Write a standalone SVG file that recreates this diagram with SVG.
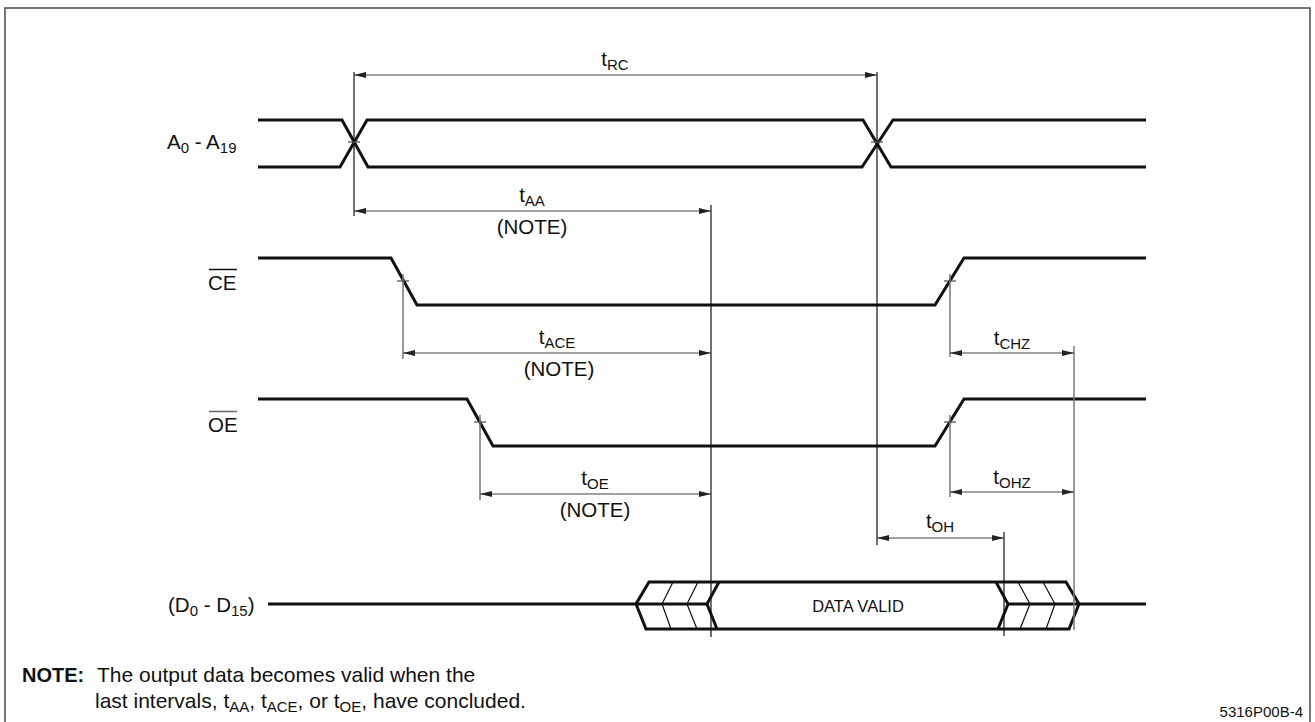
<svg xmlns="http://www.w3.org/2000/svg" width="1315" height="722" viewBox="0 0 1315 722">
<style>
text{font-family:"Liberation Sans",Arial,sans-serif;font-size:20.5px;fill:#111}
.sub{font-size:15px}
.sig{fill:none;stroke:#111;stroke-width:3;stroke-linejoin:miter}
.hatch{fill:none;stroke:#111;stroke-width:1.2}
.ref{stroke:#111;stroke-width:1.2;fill:none}
.refg{stroke:#777;stroke-width:1.5;fill:none}
.dim{stroke:#444;stroke-width:1.2;fill:none;marker-start:url(#ah);marker-end:url(#ah)}
.tick{stroke:#555;stroke-width:1.3}
</style>
<defs>
<marker id="ah" viewBox="0 0 12 6" refX="12" refY="3" markerWidth="12" markerHeight="6" markerUnits="userSpaceOnUse" orient="auto-start-reverse">
<path d="M0,0 L12,3 L0,6 Z" fill="#222"/>
</marker>
</defs>
<rect x="5" y="8" width="1305" height="730" fill="#fff" stroke="#555" stroke-width="1.6"/>

<g id="sig-addr">
<text x="167" y="149">A<tspan class="sub" dy="4">0</tspan><tspan dy="-4"> - A</tspan><tspan class="sub" dy="4">19</tspan></text>
<path class="sig" d="M258,120 H342 L368,167 H862 L893,120 H1146"/>
<path class="sig" d="M258,167 H340 L367,120 H863 L891,167 H1146"/>
</g>

<g id="sig-ce">
<text x="208" y="290">CE</text>
<line x1="209" y1="269.5" x2="237" y2="269.5" stroke="#111" stroke-width="1.5"/>
<path class="sig" d="M258,258 H391 L417,305 H935 L964,258 H1146"/>
</g>

<g id="sig-oe">
<text x="208" y="432">OE</text>
<line x1="209" y1="411.5" x2="237" y2="411.5" stroke="#666" stroke-width="1.5"/>
<path class="sig" d="M258,399 H467 L493,446 H935 L964,399 H1146"/>
</g>

<g id="sig-data">
<text x="168" y="612">(D<tspan class="sub" dy="4">0</tspan><tspan dy="-4"> - D</tspan><tspan class="sub" dy="4">15</tspan><tspan dy="-4">)</tspan></text>
<path class="sig" d="M268,604 H707"/>
<path class="sig" d="M1008,604 H1146"/>
<path class="sig" d="M1066,582 H649 L636,604 L646,629 H1069 L1079,604 Z"/>
<path class="sig" d="M719,582 L707,604 L717,629"/>
<path class="sig" d="M996,582 L1008,604 L998,629"/>
<path class="hatch" d="M673,582 L662,604 L671,629 M698,582 L687,604 L697,629 M1018,582 L1030,604 L1020,629 M1043,582 L1055,604 L1046,629"/>
<text x="858" y="612" text-anchor="middle" style="font-size:16.5px">DATA VALID</text>
</g>

<g id="connectors">
<line class="ref" x1="354" y1="72" x2="354" y2="216"/>
<line class="ref" x1="877" y1="72" x2="877" y2="545"/>
<line class="ref" x1="711" y1="205" x2="711" y2="637"/>
<line class="ref" x1="1004" y1="532" x2="1004" y2="636"/>
<line class="refg" x1="403" y1="274" x2="403" y2="359"/>
<line class="refg" x1="480" y1="415" x2="480" y2="500"/>
<line class="refg" x1="950" y1="274" x2="950" y2="357"/>
<line class="refg" x1="950" y1="415" x2="950" y2="497"/>
<line class="refg" x1="1074" y1="346" x2="1074" y2="630"/>
<line class="tick" x1="348" y1="142" x2="360" y2="142"/>
<line class="tick" x1="871" y1="142" x2="883" y2="142"/>
<line class="tick" x1="397" y1="281" x2="409" y2="281"/>
<line class="tick" x1="474" y1="422" x2="486" y2="422"/>
<line class="tick" x1="944" y1="281" x2="956" y2="281"/>
<line class="tick" x1="944" y1="422" x2="956" y2="422"/>
<line class="dim" x1="354" y1="75" x2="877" y2="75"/>
<line class="dim" x1="354" y1="211" x2="711" y2="211"/>
<line class="dim" x1="403" y1="353" x2="711" y2="353"/>
<line class="dim" x1="480" y1="494" x2="711" y2="494"/>
<line class="dim" x1="950" y1="353" x2="1074" y2="353"/>
<line class="dim" x1="950" y1="492" x2="1074" y2="492"/>
<line class="dim" x1="877" y1="538" x2="1004" y2="538"/>
</g>

<g id="labels">
<text x="615" y="66" text-anchor="middle">t<tspan class="sub" dy="4">RC</tspan></text>
<text x="532" y="202" text-anchor="middle">t<tspan class="sub" dy="4">AA</tspan></text>
<text x="532" y="234" text-anchor="middle">(NOTE)</text>
<text x="557" y="344" text-anchor="middle">t<tspan class="sub" dy="4">ACE</tspan></text>
<text x="559" y="376" text-anchor="middle">(NOTE)</text>
<text x="595" y="485" text-anchor="middle">t<tspan class="sub" dy="4">OE</tspan></text>
<text x="595" y="517" text-anchor="middle">(NOTE)</text>
<text x="1012" y="345" text-anchor="middle">t<tspan class="sub" dy="4">CHZ</tspan></text>
<text x="1012" y="484" text-anchor="middle">t<tspan class="sub" dy="4">OHZ</tspan></text>
<text x="940" y="528" text-anchor="middle">t<tspan class="sub" dy="4">OH</tspan></text>
</g>

<g id="note">
<text x="22" y="682" style="font-weight:bold;font-size:20px">NOTE:</text>
<text x="97" y="682" style="font-size:21px">The output data becomes valid when the</text>
<text x="95" y="708" style="font-size:21px">last intervals, t<tspan class="sub" dy="4">AA</tspan><tspan dy="-4">, t</tspan><tspan class="sub" dy="4">ACE</tspan><tspan dy="-4">, or t</tspan><tspan class="sub" dy="4">OE</tspan><tspan dy="-4">, have concluded.</tspan></text>
<text x="1303" y="717" text-anchor="end" style="font-size:15px">5316P00B-4</text>
</g>
</svg>
